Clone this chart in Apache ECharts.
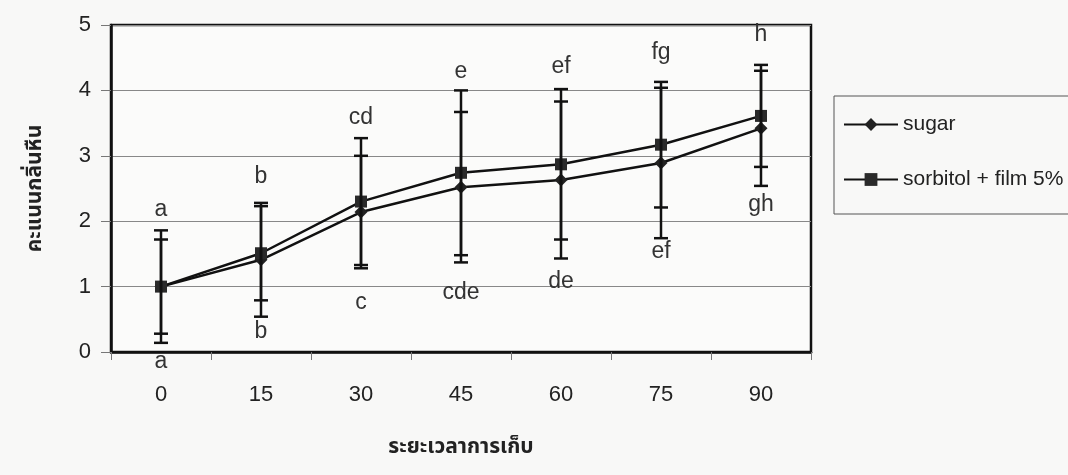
<!DOCTYPE html>
<html>
<head>
<meta charset="utf-8">
<script src="https://cdn.jsdelivr.net/npm/echarts@6/dist/echarts.min.js"></script>
<style>
  html, body { margin: 0; padding: 0; background: #f8f8f7; }
  #chart { width: 1068px; height: 475px; }
</style>
</head>
<body>
<div id="chart"></div>
<script>
// storage days
var days = ['0', '15', '30', '45', '60', '75', '90'];
// mean scores
var sugar = [1.0, 1.41, 2.14, 2.52, 2.63, 2.89, 3.42];
var sorbitol = [1.0, 1.51, 2.30, 2.74, 2.87, 3.17, 3.61];
// error (+/-)
var sugarErr = [0.86, 0.87, 0.86, 1.15, 1.20, 1.15, 0.88];
var sorbitolErr = [0.72, 0.72, 0.97, 1.26, 1.15, 0.96, 0.78];
// significance letters and where they sit (value units)
var topLetters = ['a', 'b', 'cd', 'e', 'ef', 'fg', 'h'];
var topLetterY = [2.17, 2.68, 3.58, 4.28, 4.36, 4.57, 4.85];
var bottomLetters = ['a', 'b', 'c', 'cde', 'de', 'ef', 'gh'];
var bottomLetterY = [-0.15, 0.31, 0.76, 0.90, 1.07, 1.53, 2.25];

var font = '"Liberation Sans", Arial, sans-serif';
var thaiFont = '"Noto Sans Thai", "Noto Sans", "DejaVu Sans", sans-serif';

function errData(means, errs) {
  return means.map(function (m, i) { return [i, m, errs[i]]; });
}
function errRender(params, api) {
  var i = api.value(0), m = api.value(1), e = api.value(2);
  var top = api.coord([i, m + e]);
  var bot = api.coord([i, m - e]);
  var hw = 7;
  var st = { stroke: '#111', lineWidth: 2.5 };
  return {
    type: 'group',
    children: [
      { type: 'line', shape: { x1: top[0], y1: top[1], x2: bot[0], y2: bot[1] }, style: st },
      { type: 'line', shape: { x1: top[0] - hw, y1: top[1], x2: top[0] + hw, y2: top[1] }, style: st },
      { type: 'line', shape: { x1: bot[0] - hw, y1: bot[1], x2: bot[0] + hw, y2: bot[1] }, style: st }
    ]
  };
}
function letterData(ys, letters) {
  return ys.map(function (y, i) { return [i, y, letters[i]]; });
}
function letterRender(params, api) {
  var p = api.coord([api.value(0), api.value(1)]);
  return {
    type: 'text', x: p[0], y: p[1],
    style: {
      text: api.value(2), fill: '#333', font: '23px ' + font,
      align: 'center', verticalAlign: 'middle'
    }
  };
}

var chart = echarts.init(document.getElementById('chart'));
chart.setOption({
  backgroundColor: '#f8f8f7',
  animation: false,
  grid: {
    left: 111, right: 257, top: 25, bottom: 123,
    show: true, backgroundColor: '#fbfbfa', borderColor: '#111', borderWidth: 2.5
  },
  legend: {
    orient: 'vertical', left: 834, top: 96,
    data: ['sugar', 'sorbitol + film 5%'],
    itemWidth: 54, itemHeight: 16, itemGap: 34,
    padding: [18, 20, 24, 9],
    borderColor: '#555', borderWidth: 1,
    textStyle: { fontFamily: font, fontSize: 21, color: '#222' }
  },
  xAxis: {
    type: 'category', data: days, boundaryGap: true,
    name: 'ระยะเวลาการเก็บ', nameLocation: 'middle', nameGap: 86,
    nameTextStyle: { fontFamily: thaiFont, fontSize: 21, fontWeight: 'bold', color: '#222' },
    axisLine: { lineStyle: { color: '#111', width: 2.5 } },
    axisTick: { show: true, length: 8, lineStyle: { color: '#777', width: 1 } },
    axisLabel: { margin: 32, fontFamily: font, fontSize: 22, color: '#222' },
    splitLine: { show: false }
  },
  yAxis: {
    type: 'value', min: 0, max: 5, interval: 1,
    name: 'คะแนนกลิ่นหืน', nameLocation: 'middle', nameGap: 64,
    nameTextStyle: { fontFamily: thaiFont, fontSize: 21, fontWeight: 'bold', color: '#222' },
    axisLine: { show: true, lineStyle: { color: '#111', width: 2.5 } },
    axisTick: { show: true, length: 10, lineStyle: { color: '#777', width: 1 } },
    axisLabel: { margin: 20, fontFamily: font, fontSize: 22, color: '#222' },
    splitLine: { show: true, lineStyle: { color: '#888', width: 1 } }
  },
  series: [
    {
      name: 'sugar', type: 'line', data: sugar,
      symbol: 'diamond', symbolSize: 13, showAllSymbol: true,
      lineStyle: { color: '#111', width: 2.5 },
      itemStyle: { color: '#222' }, z: 3
    },
    {
      name: 'sorbitol + film 5%', type: 'line', data: sorbitol,
      symbol: 'rect', symbolSize: 12, showAllSymbol: true,
      lineStyle: { color: '#111', width: 2.5 },
      itemStyle: { color: '#2a2a2a' }, z: 3
    },
    {
      type: 'custom', data: errData(sugar, sugarErr), renderItem: errRender,
      encode: { x: 0, y: 1 }, z: 4, silent: true
    },
    {
      type: 'custom', data: errData(sorbitol, sorbitolErr), renderItem: errRender,
      encode: { x: 0, y: 1 }, z: 4, silent: true
    },
    {
      type: 'custom', data: letterData(topLetterY, topLetters), renderItem: letterRender,
      encode: { x: 0, y: 1 }, z: 5, silent: true, clip: false
    },
    {
      type: 'custom', data: letterData(bottomLetterY, bottomLetters), renderItem: letterRender,
      encode: { x: 0, y: 1 }, z: 5, silent: true, clip: false
    }
  ]
});
</script>
</body>
</html>
